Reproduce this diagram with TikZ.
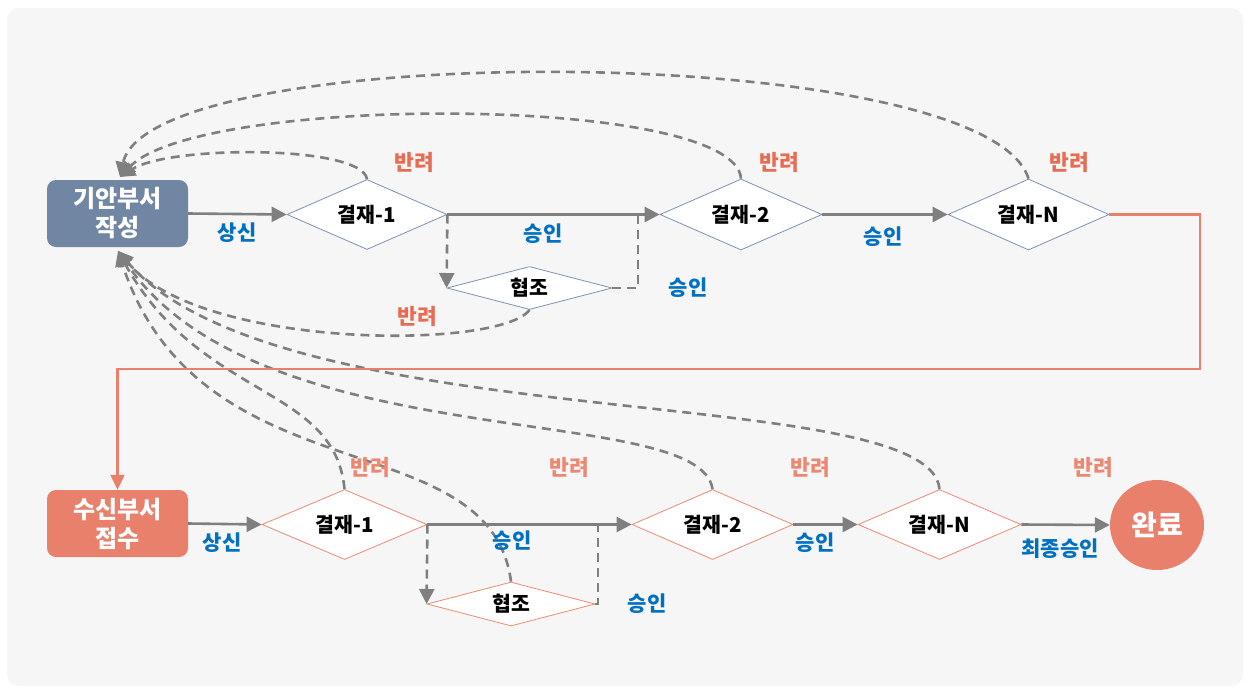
\documentclass[tikz,border=0pt]{standalone}
\usepackage{fontspec}
\setmainfont{Noto Sans CJK KR}
\usetikzlibrary{shapes.geometric,arrows.meta}
\definecolor{bgc}{HTML}{F6F6F6}
\definecolor{slatec}{HTML}{7086A3}
\definecolor{slateline}{HTML}{7C92B3}
\definecolor{orc}{HTML}{E8806C}
\definecolor{orline}{HTML}{EE8A74}
\definecolor{grayc}{HTML}{7F7F7F}
\definecolor{lblue}{HTML}{0070C0}
\definecolor{rejtop}{HTML}{E86C52}
\definecolor{rejbot}{HTML}{EC8872}
\begin{document}
\begin{tikzpicture}[x=1pt,y=-1pt,
  dia/.style={diamond, inner sep=0pt, line width=0.8pt, fill=white,
    font=\fontsize{20.5}{22}\selectfont\bfseries},
  topdia/.style={dia, draw=slateline},
  botdia/.style={dia, draw=orline},
  boxnode/.style={rectangle, rounded corners=9pt, minimum width=141pt, minimum height=67pt,
    text=white, align=center, font=\fontsize{24}{29}\selectfont\bfseries, inner sep=0pt},
  flow/.style={draw=grayc, line width=2.6pt, -{Triangle[length=15pt,width=15pt]}},
  ret/.style={draw=grayc, line width=2.6pt, dash pattern=on 9pt off 6pt, -{Triangle[length=15pt,width=15pt]}},
  cop/.style={draw=grayc, line width=2.6pt, dash pattern=on 9pt off 6pt},
  orflow/.style={draw=orc, line width=2.2pt, -{Triangle[length=15pt,width=14pt]}},
  lbl/.style={text=lblue, font=\fontsize{21}{22}\selectfont\bfseries, inner sep=0pt},
  rejt/.style={text=rejtop, font=\fontsize{21.5}{22}\selectfont\bfseries, inner sep=0pt},
  rejb/.style={text=rejbot, font=\fontsize{21.5}{22}\selectfont\bfseries, inner sep=0pt}
]
\useasboundingbox (0,0) rectangle (1249,688);
\fill[white] (0,0) rectangle (1249,688);
\fill[bgc, rounded corners=12pt] (7,8) rectangle (1243,686);

% top row
\node[boxnode, fill=slatec] (box1) at (117.5,213.5) {기안부서\\작성};
\node[topdia, aspect=2.3, minimum width=160pt, minimum height=70pt] (a1) at (367,214.5) {결재-1};
\node[topdia, aspect=2.3, minimum width=162pt, minimum height=71pt] (a2) at (741,214.5) {결재-2};
\node[topdia, aspect=2.3, minimum width=161pt, minimum height=71pt] (aN) at (1028.5,214.5) {결재-N};
\node[topdia, aspect=3.8, minimum width=165pt, minimum height=43pt] (c1) at (529.5,288) {협조};

% bottom row
\node[boxnode, fill=orc] (box2) at (117.5,523.5) {수신부서\\접수};
\node[botdia, aspect=2.3, minimum width=165pt, minimum height=70pt] (b1) at (344.5,524.5) {결재-1};
\node[botdia, aspect=2.3, minimum width=161pt, minimum height=70pt] (b2) at (712.5,524.5) {결재-2};
\node[botdia, aspect=2.3, minimum width=163pt, minimum height=70pt] (bN) at (939.5,524.5) {결재-N};
\node[botdia, aspect=3.8, minimum width=168pt, minimum height=44pt] (c2) at (511,604) {협조};
\node[ellipse, fill=orc, minimum width=94pt, minimum height=90pt, inner sep=0pt,
  text=white, font=\fontsize{28}{30}\selectfont\bfseries] (done) at (1157,525) {완료};

\coordinate (t1) at (120,177);
\coordinate (t2) at (118,251);
\coordinate (j1) at (638,214.5);
\coordinate (j2) at (598,524.5);
\coordinate (o1) at (1200,214.5);
\coordinate (o2) at (1200,369);
\coordinate (o3) at (117.5,369);

% return curves
\draw[ret] (a1.north) .. controls (362,145) and (170,145) .. (t1);
\draw[ret] (a2.north) .. controls (735,94) and (200,94) .. (t1);
\draw[ret] (aN.north) .. controls (985,40) and (150,38) .. (t1);
\draw[ret] (c1.south) .. controls (500,350) and (200,350) .. (t2);
\draw[ret] (bN.north) .. controls (930,380) and (280,440) .. (t2);
\draw[ret] (b2.north) .. controls (700,400) and (260,460) .. (t2);
\draw[ret] (b1.north) .. controls (335,385) and (200,400) .. (t2);
\draw[ret] (c2.north) .. controls (490,420) and (200,500) .. (t2);

% top flow
\draw[flow] (box1.east) -- (a1.west);
\draw[flow] (a1.east) -- (a2.west);
\draw[ret] (a1.east) -- (c1.west);
\draw[cop] (c1.east) -| (j1);
\draw[flow] (a2.east) -- (aN.west);

% orange connector
\draw[orflow] (aN.east) -- (o1) -- (o2) -- (o3) -- (box2.north);

% bottom flow
\draw[flow] (box2.east) -- (b1.west);
\draw[flow] (b1.east) -- (b2.west);
\draw[ret] (b1.east) -- (c2.west);
\draw[cop] (c2.east) -| (j2);
\draw[flow] (b2.east) -- (bN.west);
\draw[flow] (bN.east) -- (done.west);

% labels top
\node[lbl] (s1) at (237,233) {상신};
\node[lbl] (p1) at (543,234) {승인};
\node[lbl] (p2) at (688,288) {승인};
\node[lbl] (p3) at (883,237) {승인};
\node[rejt] (r1) at (414,162) {반려};
\node[rejt] (r2) at (779,162) {반려};
\node[rejt] (r3) at (1069,162) {반려};
\node[rejt] (r4) at (417,316) {반려};

% labels bottom
\node[lbl] (s2) at (222,543) {상신};
\node[lbl] (q1) at (512,541) {승인};
\node[lbl] (q2) at (647,604) {승인};
\node[lbl] (q3) at (815,543) {승인};
\node[lbl] (q4) at (1060,549) {최종승인};
\node[rejb] (k1) at (370,467) {반려};
\node[rejb] (k2) at (569,467) {반려};
\node[rejb] (k3) at (810,467) {반려};
\node[rejb] (k4) at (1093,467) {반려};
\end{tikzpicture}
\end{document}
